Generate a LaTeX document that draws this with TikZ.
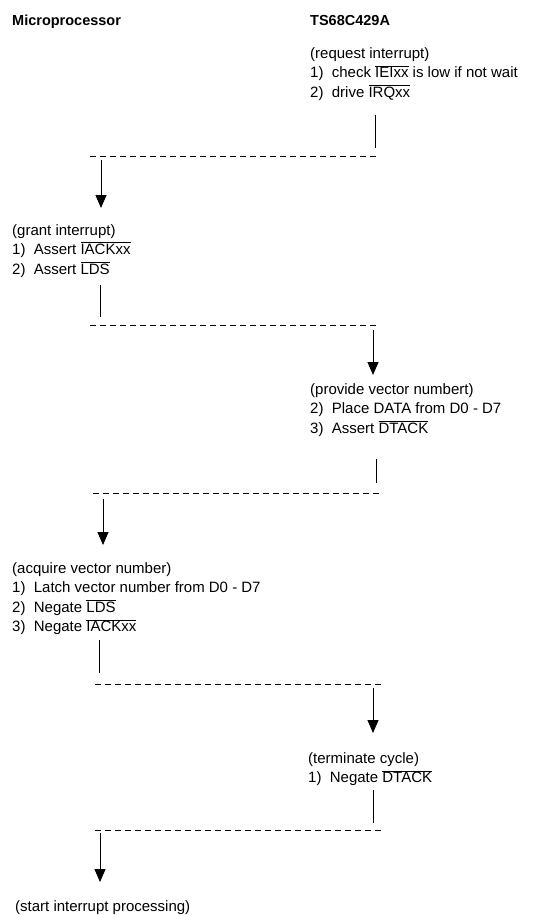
\documentclass[tikz,border=0pt]{standalone}
\usepackage{fontspec}
\setmainfont{Liberation Sans}
\usetikzlibrary{arrows.meta,positioning}
\newcommand{\ovl}[1]{$\overline{\mbox{#1}}$}

\begin{document}
\begin{tikzpicture}[
  x=1pt, y=-1pt,
  font=\fontsize{15}{19.5}\selectfont,
  txt/.style={anchor=north west, inner sep=0pt, align=left},
  head/.style={txt, font=\fontsize{14.5}{19}\selectfont\bfseries},
  tick/.style={line width=0.9pt},
  sep/.style={line width=0.9pt, dash pattern=on 6pt off 4pt},
  ar/.style={-{Triangle[width=11pt,length=13pt]}, line width=0.9pt}
]
\useasboundingbox (0,0) rectangle (552,915);
% column heads
\node[head] (mpu) at (12,15) {Microprocessor};
\node[head] (dev) at (310,15) {TS68C429A};
% steps
\node[txt] (req) at (310,47) {(request interrupt)\\
  1)\ \ check \ovl{IEIxx} is low if not wait\\
  2)\ \ drive \ovl{IRQxx}};
\node[txt] (grant) at (12,224) {(grant interrupt)\\
  1)\ \ Assert \ovl{IACKxx}\\
  2)\ \ Assert \ovl{LDS}};
\node[txt] (prov) at (310,383) {(provide vector numbert)\\
  2)\ \ Place DATA from D0 - D7\\
  3)\ \ Assert \ovl{DTACK}};
\node[txt] (acq) at (12,562) {(acquire vector number)\\
  1)\ \ Latch vector number from D0 - D7\\
  2)\ \ Negate \ovl{LDS}\\
  3)\ \ Negate \ovl{IACKxx}};
\node[txt] (term) at (308,752) {(terminate cycle)\\
  1)\ \ Negate \ovl{DTACK}};
\node[txt] (start) at (15,900) {(start interrupt processing)};
% hand-over points
\coordinate (t1) at (375,115);  \coordinate (d1a) at (90,156);  \coordinate (d1b) at (378,156);
\coordinate (t2) at (100,285);  \coordinate (d2a) at (90,325);  \coordinate (d2b) at (378,325);
\coordinate (t3) at (376,459);  \coordinate (d3a) at (93,493);  \coordinate (d3b) at (380,493);
\coordinate (t4) at (99,640);   \coordinate (d4a) at (95,684);  \coordinate (d4b) at (382,684);
\coordinate (t5) at (373,790);  \coordinate (d5a) at (95,830);  \coordinate (d5b) at (382,830);
% request -> grant
\draw[tick] (t1) -- ++(0,33);
\draw[sep] (d1a) -- (d1b);
\draw[ar] ([shift={(11,4)}]d1a) -- ++(0,48);
% grant -> provide
\draw[tick] (t2) -- ++(0,32);
\draw[sep] (d2a) -- (d2b);
\draw[ar] ([shift={(-5,5)}]d2b) -- ++(0,45);
% provide -> acquire
\draw[tick] (t3) -- ++(0,24);
\draw[sep] (d3a) -- (d3b);
\draw[ar] ([shift={(10,6)}]d3a) -- ++(0,46);
% acquire -> terminate
\draw[tick] (t4) -- ++(0,33);
\draw[sep] (d4a) -- (d4b);
\draw[ar] ([shift={(-9,4)}]d4b) -- ++(0,45);
% terminate -> start
\draw[tick] (t5) -- ++(0,33);
\draw[sep] (d5a) -- (d5b);
\draw[ar] ([shift={(5,3)}]d5a) -- ++(0,49);
\end{tikzpicture}
\end{document}
